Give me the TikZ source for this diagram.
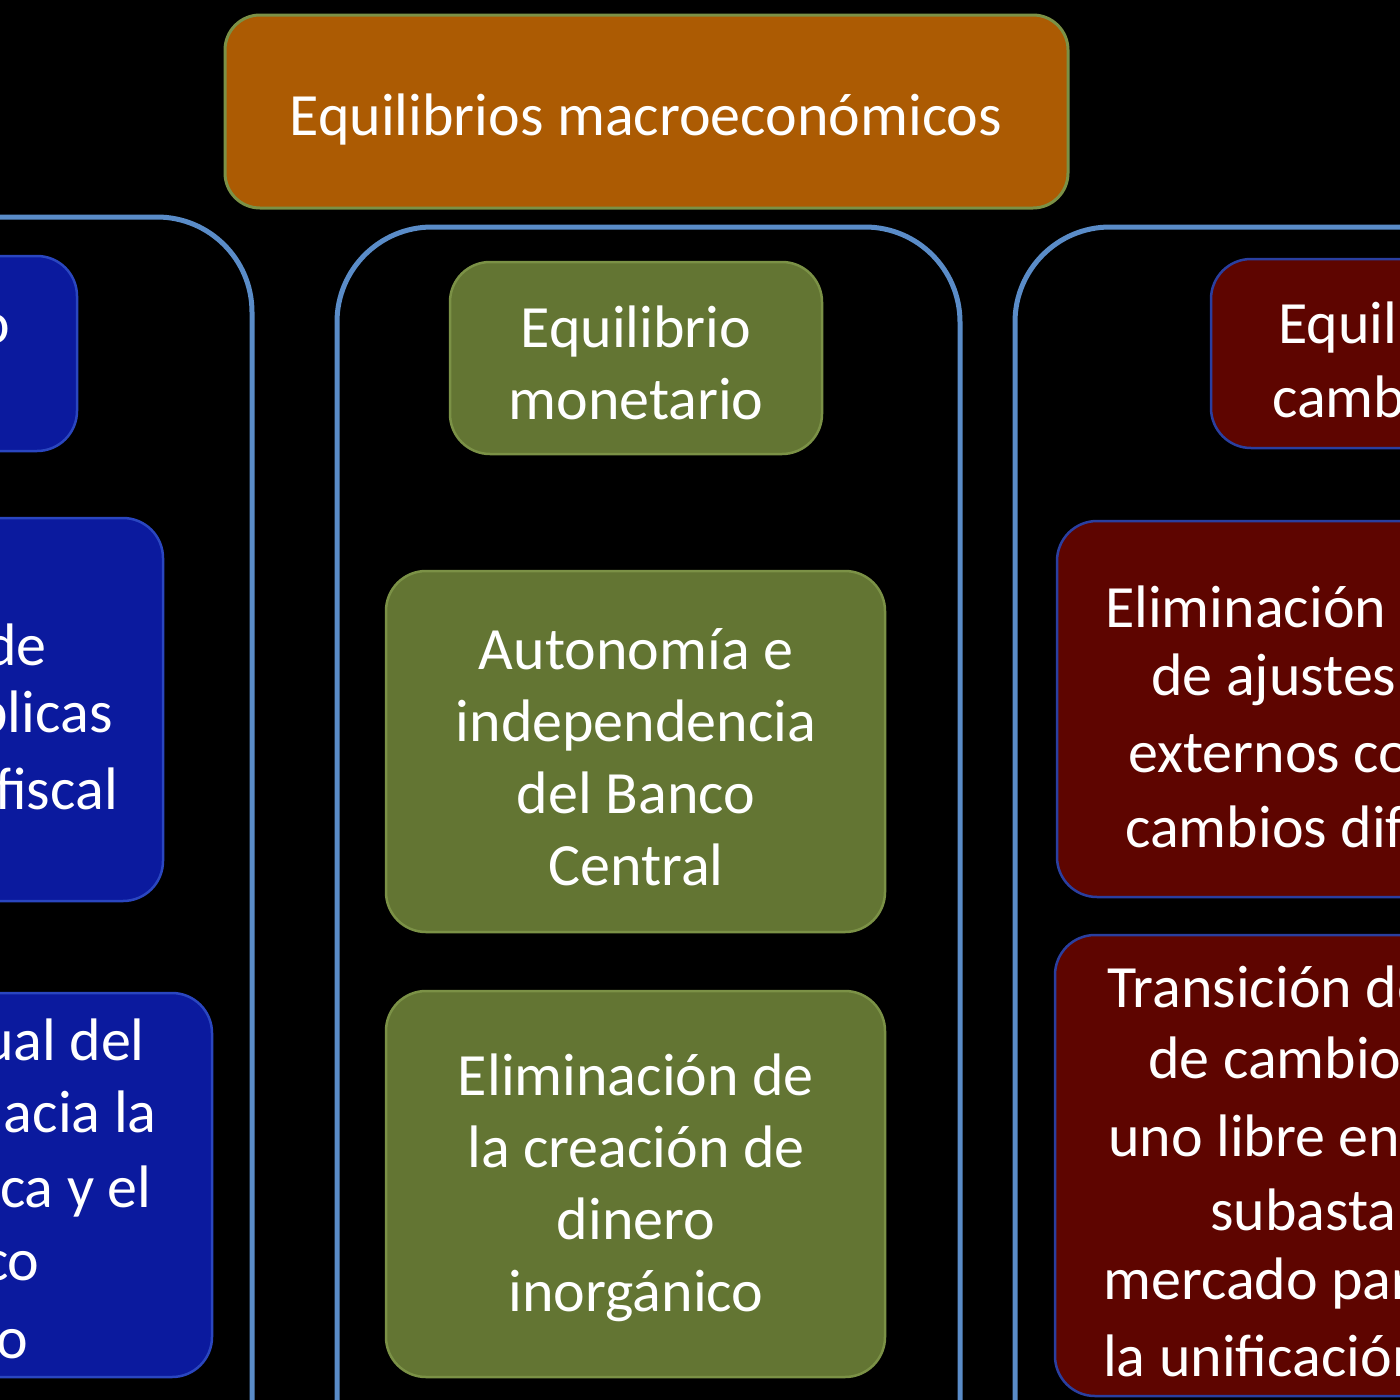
\documentclass[tikz,border=0pt]{standalone}
\usepackage{fontspec}
\setmainfont{Carlito}
\definecolor{bl}{HTML}{0B1A9E}
\definecolor{blo}{HTML}{2A46C0}
\definecolor{gr}{HTML}{637533}
\definecolor{gro}{HTML}{7B9146}
\definecolor{rd}{HTML}{5E0500}
\definecolor{rdo}{HTML}{2A3FA0}
\definecolor{org}{HTML}{AC5B03}
\definecolor{cont}{HTML}{5A8CC8}
\tikzset{
 txt/.style={text=white,font=\fontsize{60}{72}\selectfont,inner sep=0pt},
 ctr/.style={draw=cont,line width=5pt,rounded corners=95pt},
 bbox/.style={fill=bl,draw=blo,line width=2.5pt,rounded corners=40pt},
 gbox/.style={fill=gr,draw=gro,line width=2.5pt,rounded corners=40pt},
 rbox/.style={fill=rd,draw=rdo,line width=2.5pt,rounded corners=40pt},
}
\begin{document}
\begin{tikzpicture}[x=1pt,y=-1pt]
\fill[black] (0,0) rectangle (1400,1400);
\useasboundingbox (0,0) rectangle (1400,1400);
\clip (0,0) rectangle (1400,1400);
% title
\node[fill=org,draw=gro,line width=3pt,rounded corners=35pt,minimum width=843pt,minimum height=193pt] (title) at (646.5,111.5) {};
\node[txt] (tt) at (646,120) {Equilibrios macroeconómicos};
% containers
\draw[ctr] (-300,217) rectangle (252,1600);
\draw[ctr] (337,227) rectangle (960,1600);
\draw[ctr] (1015,227) rectangle (1700,1600);
% left column
\draw[bbox] (-300,256) rectangle (77,451);
\node[txt,anchor=east] (l1) at (10,327) {Equilibrio};
\node[txt,anchor=east] (l1b) at (-40,398) {fiscal};
\draw[bbox] (-400,518) rectangle (163,901);
\node[txt,anchor=east] (l2a) at (47,645) {Eliminación de};
\node[txt,anchor=east] (l2b) at (113,716) {políticas públicas};
\node[txt,anchor=east] (l2c) at (118,789) {de déficit fiscal};
\draw[bbox] (-400,993) rectangle (212,1377);
\node[txt,anchor=east] (l3a) at (145,1045) {Ajuste gradual del};
\node[txt,anchor=east] (l3b) at (157,1117) {gasto público hacia la};
\node[txt,anchor=east] (l3c) at (152,1191) {disciplina económica y el};
\node[txt,anchor=east] (l3d) at (40,1264) {equilibrio fiscal económico};
\node[txt,anchor=east] (l3e) at (28,1338) {sostenido};
% middle column
\draw[gbox] (450,262) rectangle (822,454);
\node[txt,align=center] (m1) at (636,363) {Equilibrio\\monetario};
\draw[gbox] (386,571) rectangle (885,932);
\node[txt,align=center] (m2) at (636,757) {Autonomía e\\independencia\\del Banco\\Central};
\draw[gbox] (386,991) rectangle (885,1377);
\node[txt,align=center] (m3) at (636,1188) {Eliminación de\\la creación de\\dinero\\inorgánico};
% right column
\draw[rbox] (1211,259) rectangle (1700,448);
\node[txt,anchor=west] (r1) at (1278,327) {Equilibrio};
\node[txt,anchor=west] (r1b) at (1272,397) {cambiario};
\draw[rbox] (1057,521) rectangle (1700,897);
\node[txt,anchor=west] (r2a) at (1105,607) {Eliminación};
\node[txt,anchor=west] (r2b) at (1151,680) {de ajustes};
\node[txt,anchor=west] (r2c) at (1128,754) {externos con};
\node[txt,anchor=west] (r2d) at (1125,827) {cambios diferenciales};
\draw[rbox] (1055,935) rectangle (1700,1396);
\node[txt,anchor=west] (r3a) at (1107,991) {Transición del tipo};
\node[txt,anchor=west] (r3b) at (1148,1063) {de cambio fijo a};
\node[txt,anchor=west] (r3c) at (1108,1136) {uno libre en};
\node[txt,anchor=west] (r3d) at (1210,1210) {subasta};
\node[txt,anchor=west] (r3e) at (1103,1283) {mercado para};
\node[txt,anchor=west] (r3f) at (1103,1356) {la unificación};
\end{tikzpicture}
\end{document}
